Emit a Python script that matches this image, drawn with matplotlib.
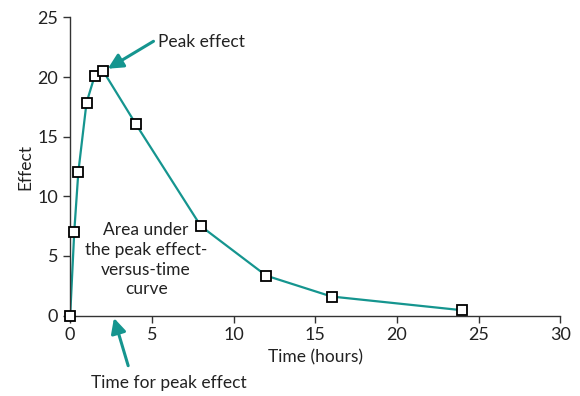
import matplotlib
matplotlib.use("Agg")
import matplotlib.pyplot as plt

# time (hours) and effect
time_h = [0, 0.25, 0.5, 1, 1.5, 2, 4, 8, 12, 16, 24]
effect = [0, 7.05, 12.05, 17.85, 20.1, 20.55, 16.1, 7.5, 3.35, 1.6, 0.45]

x_ticks = [0, 5, 10, 15, 20, 25, 30]
y_ticks = [0, 5, 10, 15, 20, 25]

teal = "#15958f"
plt.rcParams['font.family'] = ['Lato', 'DejaVu Sans']

fig = plt.figure(figsize=(5.8, 3.96), dpi=100)
ax = fig.add_axes([0.121, 0.203, 0.845, 0.753])

ax.plot(time_h, effect, color=teal, lw=1.6, zorder=2)
ax.plot(time_h, effect, ls='none', marker='s', ms=7, mfc='white',
        mec='black', mew=1.3, zorder=3, clip_on=False)

ax.set_xlim(0, 30)
ax.set_ylim(0, 25)
ax.set_xticks(x_ticks)
ax.set_yticks(y_ticks)
ax.spines['top'].set_visible(False)
ax.spines['right'].set_visible(False)
for s in ['left', 'bottom']:
    ax.spines[s].set_color('#333333')
    ax.spines[s].set_linewidth(1.0)
ax.tick_params(direction='out', length=5, width=1.0, color='#333333',
               labelsize=13, labelcolor='#222222')
ax.set_xlabel('Time (hours)', fontsize=12.5, color='#222222', labelpad=4)
ax.set_ylabel('Effect', fontsize=12.5, color='#222222', labelpad=3)

arrow = dict(arrowstyle='-|>,head_length=0.9,head_width=0.45', color=teal,
             lw=2.2, shrinkA=0, shrinkB=0)
ax.annotate('', xy=(2.3, 20.7), xytext=(5.1, 23.0), arrowprops=arrow,
            annotation_clip=False)
ax.text(5.4, 22.9, 'Peak effect', fontsize=12.5, color='#222222',
        va='center', ha='left')

ax.annotate('', xy=(2.68, -0.2), xytext=(3.55, -4.2), arrowprops=arrow,
            annotation_clip=False)
ax.text(6.05, -5.65, 'Time for peak effect', fontsize=12.5, color='#222222',
        va='center', ha='center', clip_on=False)

ax.text(4.65, 4.7, 'Area under\nthe peak effect-\nversus-time\ncurve',
        fontsize=12.5, color='#222222', va='center', ha='center',
        linespacing=1.3)

fig.savefig('out.png', dpi=100)
